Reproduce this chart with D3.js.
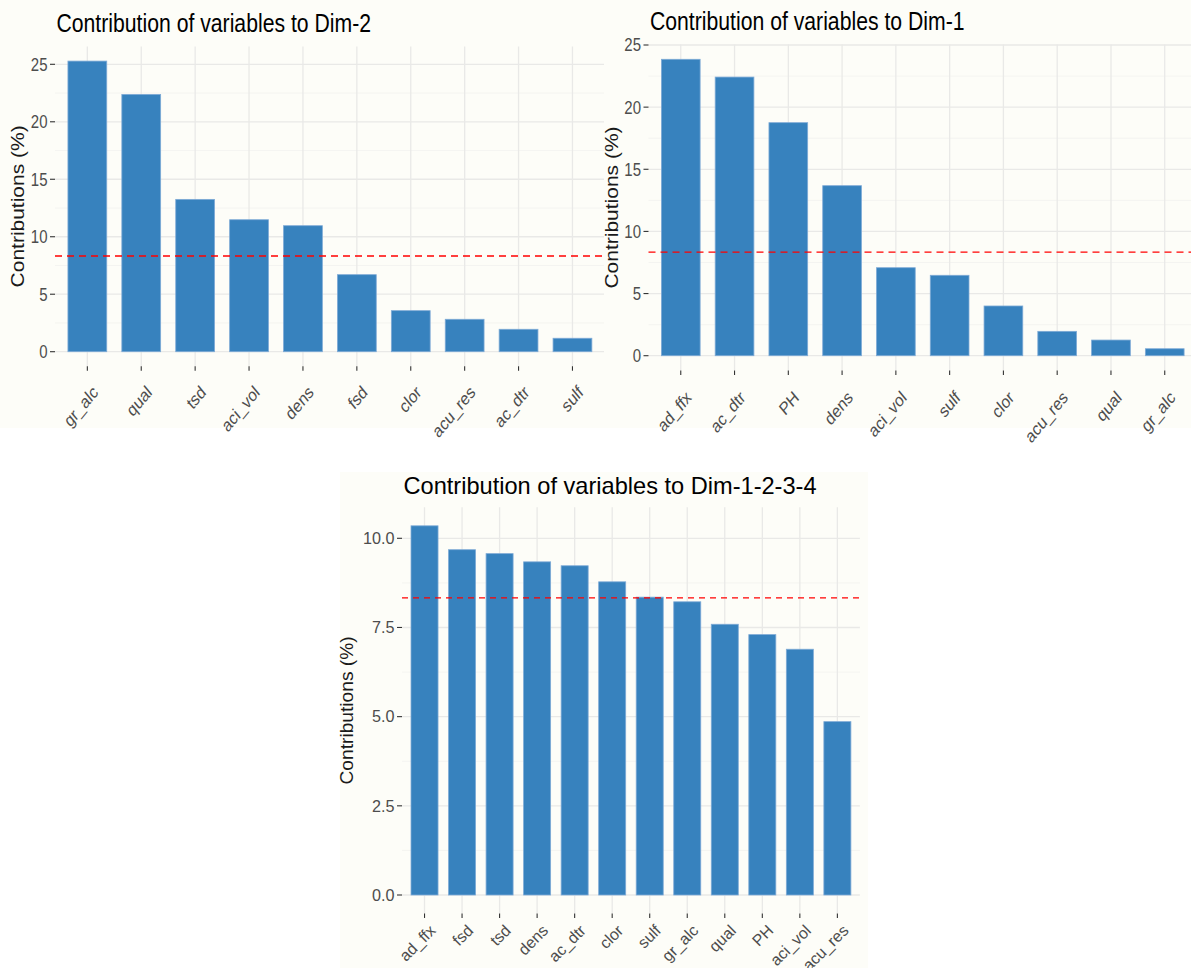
<!DOCTYPE html>
<html lang="en">
<head>
    <meta charset="UTF-8">
    <title>Contribution of variables</title>
    <script src="https://d3js.org/d3.v7.min.js"></script>
    <style>
        body { margin: 0; background: #ffffff; }
        text { font-family: "Liberation Sans", Arial, sans-serif; }
    </style>
</head>
<body>
    <svg id="fig" width="1191" height="968"></svg>

    <script>
        // Data
        const dim2Vars = ["gr_alc", "qual", "tsd", "aci_vol", "dens", "fsd", "clor", "acu_res", "ac_dtr", "sulf"];
        const dim2Contrib = [25.28, 22.38, 13.25, 11.48, 10.96, 6.70, 3.57, 2.82, 1.95, 1.17];

        const dim1Vars = ["ad_ffx", "ac_dtr", "PH", "dens", "aci_vol", "sulf", "clor", "acu_res", "qual", "gr_alc"];
        const dim1Contrib = [23.85, 22.42, 18.75, 13.68, 7.08, 6.47, 4.00, 1.96, 1.26, 0.56];

        const dimAllVars = ["ad_ffx", "fsd", "tsd", "dens", "ac_dtr", "clor", "sulf", "gr_alc", "qual", "PH", "aci_vol", "acu_res"];
        const dimAllContrib = [10.35, 9.68, 9.57, 9.34, 9.23, 8.78, 8.35, 8.22, 7.59, 7.30, 6.89, 4.86];

        const refLine = 8.33;   // expected average contribution

        const topTicks = [0, 5, 10, 15, 20, 25];
        const topMinor = [2.5, 7.5, 12.5, 17.5, 22.5];
        const bottomTicks = [0, 2.5, 5, 7.5, 10];
        const bottomMinor = [1.25, 3.75, 6.25, 8.75];

        const svg = d3.select("#fig");
        const cream = "#fdfdf8";
        const barFill = "#3782be";

        // backgrounds of the pasted plot images
        svg.append("rect").attr("x", 0).attr("y", 0).attr("width", 1191).attr("height", 428).attr("fill", cream);
        svg.append("rect").attr("x", 340).attr("y", 472).attr("width", 528).attr("height", 496).attr("fill", cream);

        const defs = svg.append("defs");
        defs.append("clipPath").attr("id", "clip1")
            .append("rect").attr("x", 0).attr("y", 0).attr("width", 604).attr("height", 440);

        function addText(g, x, y, str, o) {
            return g.append("text")
                .attr("transform", `translate(${x},${y}) scale(1,${o.sy || 1}) rotate(${o.rot || 0})`)
                .attr("text-anchor", o.anchor || "start")
                .attr("dy", o.dy || "0")
                .attr("font-size", o.size)
                .attr("fill", o.fill || "#000")
                .text(str);
        }

        function drawPanel(o) {
            const g = svg.append("g");
            if (o.clip) g.attr("clip-path", `url(#${o.clip})`);

            const x = d3.scalePoint().domain(o.vars).range([o.left, o.right]).padding(0.6);
            const step = x.step();
            const y = d3.scaleLinear().domain(o.yDomain).range(o.yRange);
            const maxV = d3.max(o.values);
            const top = y(maxV * 1.05), bottom = y(-maxV * 0.05);

            // grid
            g.selectAll(".minor").data(o.minor).join("line")
                .attr("x1", o.left).attr("x2", o.right)
                .attr("y1", d => y(d)).attr("y2", d => y(d))
                .attr("stroke", "#f1f1ef").attr("stroke-width", 0.8);
            g.selectAll(".major").data(o.ticks).join("line")
                .attr("x1", o.left).attr("x2", o.right)
                .attr("y1", d => y(d)).attr("y2", d => y(d))
                .attr("stroke", "#e9e9e7").attr("stroke-width", 1.3);
            g.selectAll(".vgrid").data(o.vars).join("line")
                .attr("x1", d => x(d)).attr("x2", d => x(d))
                .attr("y1", top).attr("y2", bottom)
                .attr("stroke", "#e9e9e7").attr("stroke-width", 1.3);

            // bars
            const bw = step * 0.72;
            g.selectAll(".bar").data(o.vars).join("rect")
                .attr("x", d => x(d) - bw / 2)
                .attr("width", bw)
                .attr("y", (d, i) => y(o.values[i]))
                .attr("height", (d, i) => y(0) - y(o.values[i]))
                .attr("fill", barFill)
                .attr("stroke", "#7eaad6")
                .attr("stroke-width", 0.8);

            // reference line
            g.append("line")
                .attr("x1", o.left).attr("x2", o.right)
                .attr("y1", y(refLine)).attr("y2", y(refLine))
                .attr("stroke", "#ff0000").attr("stroke-width", 1.4)
                .attr("stroke-dasharray", o.dash);

            // y axis ticks and labels
            g.selectAll(".ytick").data(o.ticks).join("line")
                .attr("x1", o.left - 5).attr("x2", o.left)
                .attr("y1", d => y(d)).attr("y2", d => y(d))
                .attr("stroke", "#333").attr("stroke-width", 1.1);
            o.ticks.forEach(t => {
                addText(g, o.left - 7.5, y(t), o.fmt(t), {size: o.tickSize, sy: o.sy, anchor: "end", dy: "0.36em", fill: "#4d4d4d"});
            });

            // x axis ticks and labels
            g.selectAll(".xtick").data(o.vars).join("line")
                .attr("x1", d => x(d)).attr("x2", d => x(d))
                .attr("y1", bottom).attr("y2", bottom + 4.5)
                .attr("stroke", "#333").attr("stroke-width", 1.1);
            o.vars.forEach(v => {
                addText(g, x(v) + o.xlDx, bottom + o.xlDy, v, {size: o.xSize, sy: o.sy, rot: -45, anchor: "end", dy: "0.72em", fill: "#4d4d4d"});
            });

            // titles
            addText(g, o.yTitleX, (top + bottom) / 2, "Contributions (%)", {size: o.yTitleSize, sy: o.sy, rot: -90, anchor: "middle", fill: "#1a1a1a"});
            addText(g, o.left + 1.5, o.titleY, o.title, {size: o.titleSize, sy: o.sy, fill: "#000"});
        }

        drawPanel({
            vars: dim2Vars, values: dim2Contrib, title: "Contribution of variables to Dim-2",
            left: 55, right: 604.8, yDomain: [0, 25], yRange: [351.7, 64.3],
            ticks: topTicks, minor: topMinor, fmt: d3.format("d"),
            sy: 1.2, tickSize: 15, xSize: 15, yTitleSize: 17.5, titleSize: 21.2,
            titleY: 31.5, yTitleX: 24, xlDx: 4, xlDy: 18, dash: "7,5", clip: "clip1"
        });

        drawPanel({
            vars: dim1Vars, values: dim1Contrib, title: "Contribution of variables to Dim-1",
            left: 648.5, right: 1197, yDomain: [0, 25], yRange: [355.7, 45],
            ticks: topTicks, minor: topMinor, fmt: d3.format("d"),
            sy: 1.2, tickSize: 15, xSize: 15, yTitleSize: 17.5, titleSize: 21.2,
            titleY: 30, yTitleX: 617.5, xlDx: 4, xlDy: 19, dash: "7,5"
        });

        drawPanel({
            vars: dimAllVars, values: dimAllContrib, title: "Contribution of variables to Dim-1-2-3-4",
            left: 402, right: 859.9, yDomain: [0, 10], yRange: [895, 538.3],
            ticks: bottomTicks, minor: bottomMinor, fmt: d3.format(".1f"),
            sy: 1, tickSize: 16.2, xSize: 16, yTitleSize: 19.2, titleSize: 23.6,
            titleY: 493.5, yTitleX: 353, xlDx: 4, xlDy: 10, dash: "6,5"
        });
    </script>
</body>
</html>
